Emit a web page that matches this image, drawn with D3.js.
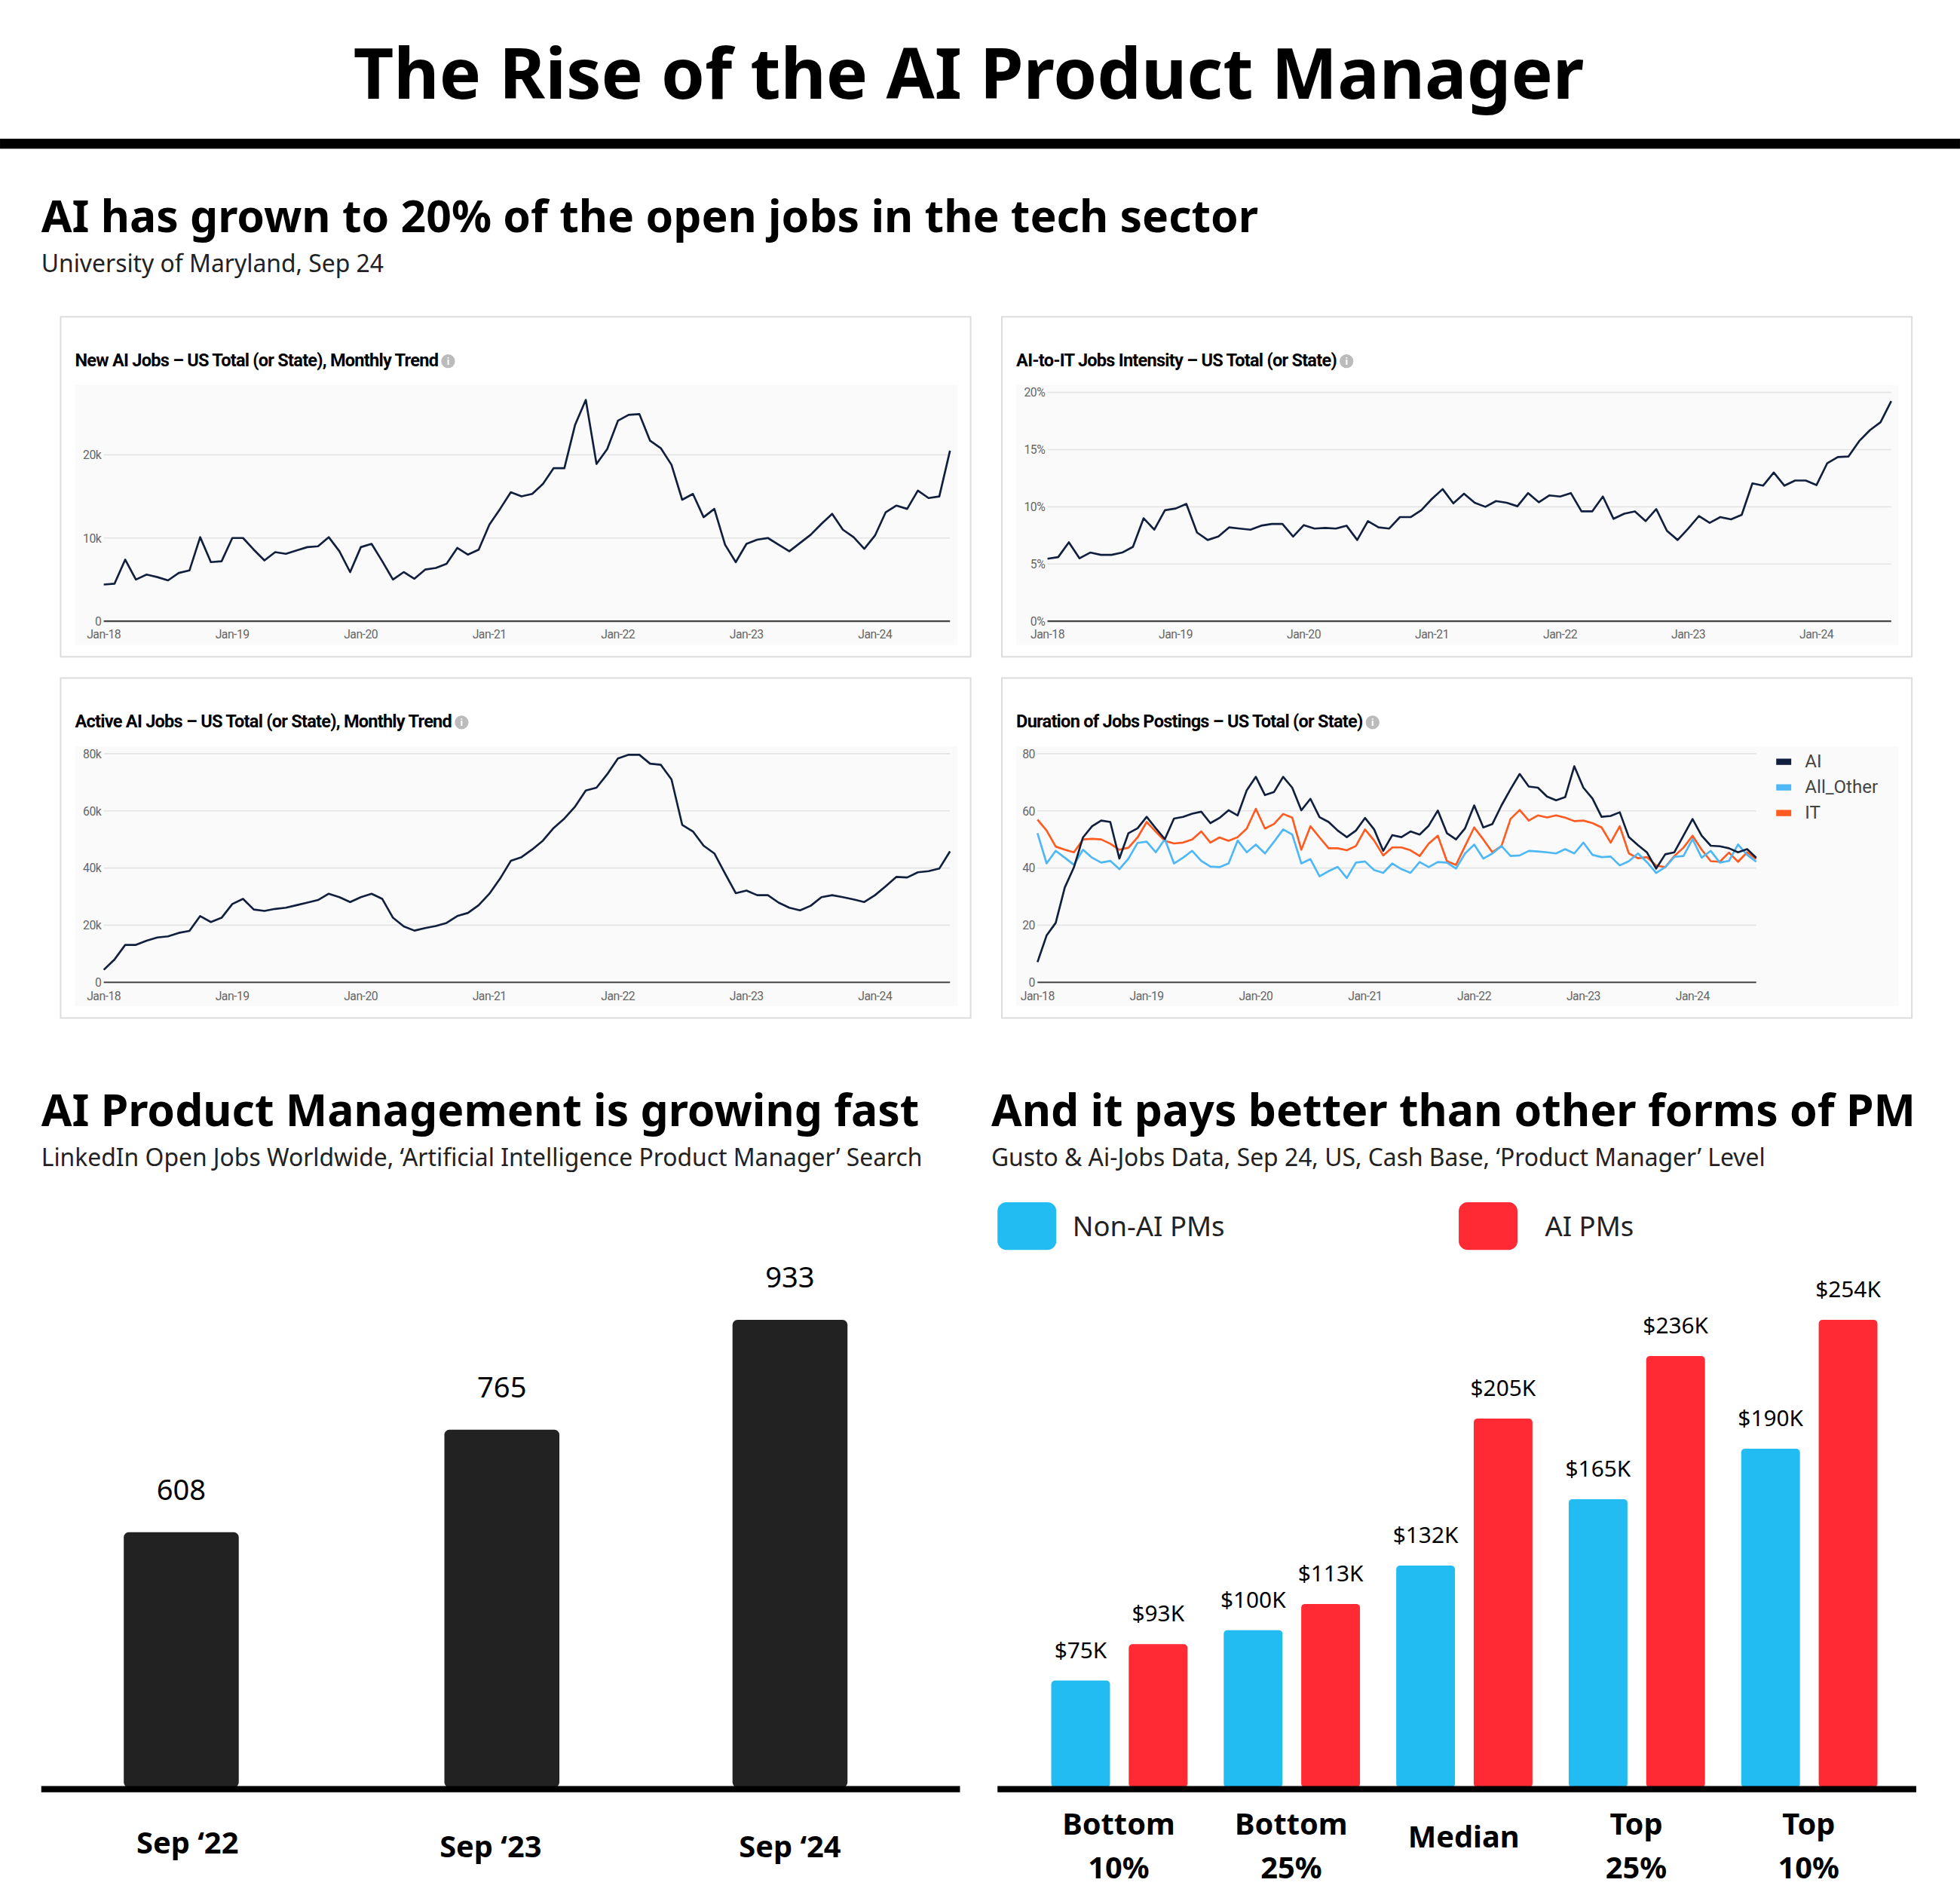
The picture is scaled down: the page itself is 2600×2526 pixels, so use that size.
<!DOCTYPE html>
<html>
<head>
<meta charset="utf-8">
<script src="https://cdn.jsdelivr.net/npm/d3@7"></script>
<style>
  html, body { margin: 0; padding: 0; background: #fff; }
  svg { display: block; }
</style>
</head>
<body>
<div id="chart"></div>
<script>
// monthly series Jan-18 .. Aug-24 (80 months)
const newAiJobs = [4.4,4.5,7.4,5.0,5.6,5.3,4.9,5.8,6.1,10.1,7.1,7.2,10.0,10.0,8.6,7.3,8.3,8.1,8.5,8.9,9.0,10.1,8.4,5.9,
  8.9,9.3,7.2,5.0,5.9,5.1,6.2,6.4,6.9,8.8,8.0,8.6,11.6,13.5,15.5,15.0,15.3,16.5,18.4,18.4,23.6,26.6,18.9,20.7,
  24.1,24.8,24.9,21.7,20.8,18.8,14.6,15.3,12.5,13.5,9.2,7.1,9.3,9.8,10.0,9.2,8.4,9.4,10.4,11.7,12.9,11.0,10.1,8.7,
  10.3,13.1,13.9,13.5,15.7,14.8,15.0,20.5];
const aiToIt = [5.46,5.6,6.9,5.5,6.0,5.8,5.8,6.0,6.5,9.0,8.0,9.7,9.85,10.25,7.75,7.1,7.4,8.2,8.1,8.0,8.35,8.5,8.5,7.4,
  8.4,8.1,8.15,8.1,8.35,7.1,8.75,8.2,8.1,9.1,9.1,9.7,10.7,11.55,10.3,11.15,10.35,10.0,10.5,10.35,10.05,11.2,10.4,11.0,
  10.9,11.2,9.6,9.6,10.9,8.95,9.4,9.6,8.75,9.8,7.9,7.1,8.1,9.2,8.6,9.1,8.9,9.3,12.05,11.85,13.0,11.85,12.3,12.3,
  11.9,13.8,14.35,14.4,15.75,16.7,17.4,19.25];
const activeAiJobs = [4.4,8.0,13.1,13.1,14.6,15.7,16.1,17.3,18.0,23.2,21.1,22.6,27.4,29.2,25.5,25.0,25.7,26.1,27.0,27.9,28.8,31.0,29.8,28.1,
  29.8,31.0,29.2,22.6,19.6,18.1,19.0,19.7,20.8,23.2,24.3,27.0,31.0,36.3,42.5,43.8,46.5,49.6,54.0,57.3,61.5,67.1,68.1,72.8,
  78.3,79.6,79.6,76.5,76.1,71.0,55.1,52.8,47.8,45.1,38.1,31.2,32.1,30.5,30.5,27.9,26.1,25.2,26.8,29.8,30.5,29.8,29.0,28.1,
  30.5,33.6,36.9,36.7,38.5,38.9,39.8,45.8];
const durationAi = [7.1,16.4,20.8,33.2,40.2,50.7,54.6,56.6,56.1,43.3,52.2,53.9,57.9,53.9,50.1,57.3,57.9,59.0,59.7,55.7,57.5,60.2,58.4,67.2,
  71.9,65.5,66.6,71.9,68.1,60.2,64.2,57.8,56.1,53.1,50.8,53.1,57.5,53.5,46.0,51.5,50.8,52.8,51.7,54.8,60.1,52.2,50.0,53.9,
  61.9,54.2,55.4,61.9,67.6,72.9,68.5,68.1,65.0,63.7,64.8,75.6,68.1,64.3,57.9,58.2,59.5,50.8,48.0,45.4,39.8,44.8,45.5,51.3,
  57.1,51.3,47.8,47.6,46.9,45.5,46.6,43.6];
const durationOther = [52.2,41.6,46.0,43.6,41.1,46.4,43.6,41.9,42.5,39.6,43.3,48.8,49.2,45.5,50.1,41.6,43.6,46.0,42.5,40.5,40.3,41.6,49.6,45.5,
  48.2,45.1,49.2,53.5,51.7,41.6,43.1,37.1,38.9,40.4,36.5,41.9,42.3,39.3,38.3,41.6,39.6,38.3,42.1,40.3,42.1,41.9,39.8,45.1,
  48.2,43.3,45.1,47.7,44.2,44.4,46.0,45.8,45.5,45.1,46.6,45.1,48.9,44.6,43.8,44.0,40.9,42.4,45.1,42.0,38.3,40.3,43.9,44.2,
  50.1,43.6,46.0,41.9,42.5,48.2,44.6,42.2];
const durationIt = [56.9,53.1,47.5,46.4,45.5,50.0,50.2,50.0,48.5,46.4,47.1,50.7,56.1,52.7,49.5,48.6,48.9,50.0,52.8,48.9,50.7,49.5,50.8,53.8,
  60.7,53.8,55.4,58.9,57.6,46.4,54.6,50.7,46.9,46.9,46.2,47.7,53.5,49.6,44.4,47.2,47.2,46.2,44.2,48.5,51.3,42.4,41.1,47.7,
  54.2,50.0,45.5,47.7,57.2,60.3,56.6,58.4,57.7,58.4,57.6,56.4,56.6,55.7,54.2,48.9,54.6,45.1,43.4,43.8,40.9,40.3,44.2,47.1,
  51.3,46.4,42.4,42.2,45.4,42.2,45.5,43.1];
const tickYears = ["Jan-18","Jan-19","Jan-20","Jan-21","Jan-22","Jan-23","Jan-24"];
const durationSeries = ["AI", "All_Other", "IT"];

const pmYears = ["Sep \u201822", "Sep \u201823", "Sep \u201824"];
const pmJobs = [608, 765, 933];

const payLevels = [["Bottom","10%"],["Bottom","25%"],["Median"],["Top","25%"],["Top","10%"]];
const payNonAi = [75, 100, 132, 165, 190];
const payAi = [93, 113, 205, 236, 254];
const payGroups = ["Non-AI PMs", "AI PMs"];

const W = 1568, H = 1523.4;
const svg = d3.select("#chart").append("svg")
  .attr("width", 2600).attr("height", 2526)
  .attr("viewBox", `0 0 ${W} ${H}`);

const head = "'Noto Sans', 'Open Sans', sans-serif";
const small = "Roboto, sans-serif";

svg.append("text").attr("x", 775).attr("y", 79).attr("text-anchor", "middle")
  .attr("font-family", head).attr("font-weight", 700).attr("font-size", 56)
  .text("The Rise of the AI Product Manager");
svg.append("rect").attr("x", 0).attr("y", 111).attr("width", W).attr("height", 8).attr("fill", "#000");

function heading(x, y, t, sub) {
  svg.append("text").attr("x", x).attr("y", y).attr("font-family", head)
    .attr("font-weight", 700).attr("font-size", 35.5).text(t);
  svg.append("text").attr("x", x).attr("y", y + 32).attr("font-family", head)
    .attr("font-size", 19.2).attr("fill", "#222").text(sub);
}
heading(33, 186, "AI has grown to 20% of the open jobs in the tech sector", "University of Maryland, Sep 24");
heading(33, 901, "AI Product Management is growing fast", "LinkedIn Open Jobs Worldwide, \u2018Artificial Intelligence Product Manager\u2019 Search");
heading(793, 901, "And it pays better than other forms of PM", "Gusto & Ai-Jobs Data, Sep 24, US, Cash Base, \u2018Product Manager\u2019 Level");

function card(cx, cy, title, ticks, fmt, yMax, x0, x1, series) {
  const g = svg.append("g").attr("transform", `translate(${cx},${cy})`);
  g.append("rect").attr("x", 0.5).attr("y", 0.5).attr("width", 728).attr("height", 272)
    .attr("fill", "#fff").attr("stroke", "#dcdcdc").attr("stroke-width", 1.2);
  const tt = g.append("text").attr("x", 12).attr("y", 40).attr("font-family", small)
    .attr("font-weight", 700).attr("font-size", 14.2).attr("letter-spacing", -0.45).text(title);
  const tw = tt.node().getComputedTextLength();
  g.append("circle").attr("cx", 12 + tw + 8).attr("cy", 36).attr("r", 5.5).attr("fill", "#bbb");
  g.append("text").attr("x", 12 + tw + 8).attr("y", 39).attr("text-anchor", "middle")
    .attr("font-size", 8).attr("font-weight", 700).attr("fill", "#fff").attr("font-family", small).text("i");
  g.append("rect").attr("x", 12).attr("y", 55).attr("width", 706).attr("height", 208).attr("fill", "#fafafa");

  const x = d3.scaleLinear().domain([0, 79]).range([x0, x1]);
  const y = d3.scaleLinear().domain([0, yMax]).range([244, 244 - 183]);
  g.append("g").selectAll("line").data(ticks.slice(1)).join("line")
    .attr("x1", x0).attr("x2", x1).attr("y1", d => y(d)).attr("y2", d => y(d))
    .attr("stroke", "#e4e4e4").attr("stroke-width", 1);
  g.append("line").attr("x1", x0).attr("x2", x1).attr("y1", y(0)).attr("y2", y(0))
    .attr("stroke", "#444").attr("stroke-width", 1.3);
  g.append("g").selectAll("text").data(ticks).join("text")
    .attr("x", x0 - 2).attr("y", d => y(d) + 3.5).attr("text-anchor", "end")
    .attr("font-family", small).attr("font-size", 9.5).attr("letter-spacing", -0.3).attr("fill", "#666").text(fmt);
  g.append("g").selectAll("text").data(tickYears).join("text")
    .attr("x", (d, i) => x(i * 12)).attr("y", y(0) + 14).attr("text-anchor", "middle")
    .attr("font-family", small).attr("font-size", 9.5).attr("letter-spacing", -0.3).attr("fill", "#666").text(d => d);
  const line = d3.line().x((d, i) => x(i)).y(d => y(d));
  series.forEach(s => {
    g.append("path").datum(s.values).attr("d", line).attr("fill", "none")
      .attr("stroke", s.color).attr("stroke-width", 1.6).attr("stroke-linejoin", "round");
  });
  return { g, x, y };
}

const navy = "#0f1f3d", sky = "#4db8f5", orange = "#ff5a1f";
card(48, 253, "New AI Jobs \u2013 US Total (or State), Monthly Trend", [0, 10, 20], d => d ? d + "k" : "0",
  27.5, 35, 712, [{ values: newAiJobs, color: navy }]);
card(801, 253, "AI-to-IT Jobs Intensity \u2013 US Total (or State)", [0, 5, 10, 15, 20], d => d + "%",
  20, 37, 712, [{ values: aiToIt, color: navy }]);
card(48, 542, "Active AI Jobs \u2013 US Total (or State), Monthly Trend", [0, 20, 40, 60, 80], d => d ? d + "k" : "0",
  80, 35, 712, [{ values: activeAiJobs, color: navy }]);
const dur = card(801, 542, "Duration of Jobs Postings \u2013 US Total (or State)", [0, 20, 40, 60, 80], d => d,
  80, 29, 604, [{ values: durationIt, color: orange }, { values: durationOther, color: sky }, { values: durationAi, color: navy }]);
const legCol = [navy, sky, orange];
dur.g.append("g").selectAll("g").data(durationSeries).join("g")
  .attr("transform", (d, i) => `translate(620,${70 + i * 20.5})`)
  .call(s => s.append("rect").attr("width", 12).attr("height", 5).attr("y", -5).attr("fill", (d, i) => legCol[i]))
  .call(s => s.append("text").attr("x", 23).attr("y", 2).attr("font-family", small)
    .attr("font-size", 14.5).attr("fill", "#444").text(d => d));

// LinkedIn bars
const base = 1430;
const xa = d3.scalePoint().domain(pmYears).range([145, 632]);
const ya = d3.scaleLinear().domain([218, 933]).range([base, 1056]);
const ga = svg.append("g");
ga.selectAll("rect").data(pmJobs).join("rect")
  .attr("x", (d, i) => xa(pmYears[i]) - 46 + [0, 13, 0][i]).attr("y", d => ya(d))
  .attr("width", 92).attr("height", d => base - ya(d)).attr("rx", 4).attr("fill", "#222");
ga.selectAll("text.v").data(pmJobs).join("text").attr("class", "v")
  .attr("x", (d, i) => xa(pmYears[i]) + [0, 13, 0][i]).attr("y", d => ya(d) - 26)
  .attr("text-anchor", "middle").attr("font-family", head).attr("font-size", 23).text(d => d);
ga.selectAll("text.c").data(pmYears).join("text").attr("class", "c")
  .attr("x", (d, i) => xa(d) + [5, 4, 0][i]).attr("y", (d, i) => i === 0 ? 1483 : 1486)
  .attr("text-anchor", "middle").attr("font-family", head).attr("font-weight", 700).attr("font-size", 24).text(d => d);
svg.append("rect").attr("x", 33).attr("y", base - 1).attr("width", 735).attr("height", 5).attr("fill", "#000");

// Pay bars
const blue = "#22bbf2", red = "#ff2a33";
const gb = svg.append("g");
[[798, blue], [1167, red]].forEach(([lx, c], i) => {
  gb.append("rect").attr("x", lx).attr("y", 962).attr("width", 47).attr("height", 38).attr("rx", 7).attr("fill", c);
  gb.append("text").attr("x", lx + (i ? 69 : 60)).attr("y", 989).attr("font-family", head)
    .attr("font-size", 22).attr("fill", "#222").text(payGroups[i]);
});
const xb = d3.scaleBand().domain(d3.range(5)).range([841, 1502]).paddingInner(0.21);
const yb = d3.scaleLinear().domain([22, 254]).range([base, 1056]);
const bw = 47;
const pairs = [];
payNonAi.forEach((v, i) => {
  pairs.push({ i, v, off: 0, c: blue });
  pairs.push({ i, v: payAi[i], off: bw + 15, c: red });
});
gb.selectAll("rect.b").data(pairs).join("rect").attr("class", "b")
  .attr("x", d => xb(d.i) + d.off).attr("y", d => yb(d.v))
  .attr("width", bw).attr("height", d => base - yb(d.v)).attr("rx", 3).attr("fill", d => d.c);
gb.selectAll("text.v").data(pairs).join("text").attr("class", "v")
  .attr("x", d => xb(d.i) + d.off + bw / 2).attr("y", d => yb(d.v) - 18)
  .attr("text-anchor", "middle").attr("font-family", head).attr("font-size", 18).text(d => `$${d.v}K`);
gb.selectAll("text.c").data(payLevels).join("text").attr("class", "c")
  .attr("x", (d, i) => xb(i) + bw + 7).attr("y", d => d.length === 1 ? 1478 : 1468)
  .attr("text-anchor", "middle").attr("font-family", head).attr("font-weight", 700).attr("font-size", 24)
  .selectAll("tspan").data(d => d).join("tspan")
  .attr("x", function () { return d3.select(this.parentNode).attr("x"); })
  .attr("dy", (d, j) => j ? 35 : 0).text(d => d);
svg.append("rect").attr("x", 798).attr("y", base - 1).attr("width", 735).attr("height", 5).attr("fill", "#000");
</script>
</body>
</html>
